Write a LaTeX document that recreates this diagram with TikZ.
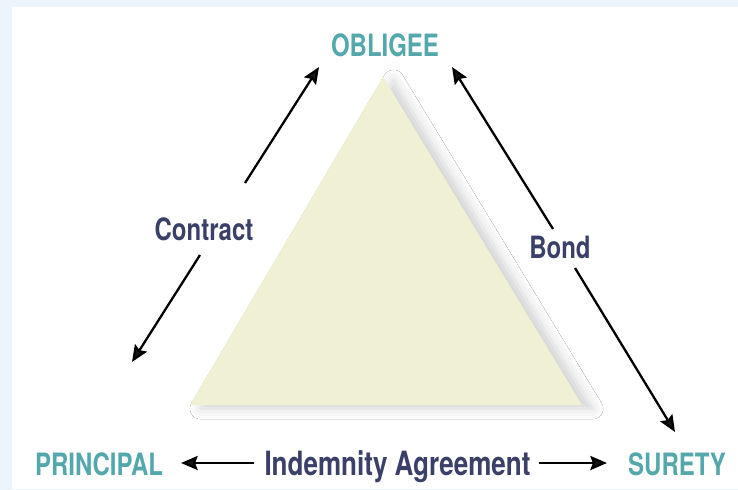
\documentclass[tikz,border=0pt]{standalone}
\usepackage{fontspec}
\newfontfamily\condfont[FakeStretch=0.78]{TeX Gyre Heros}
\usepackage{tikz}
\usetikzlibrary{arrows.meta,shadows.blur}

\definecolor{partyteal}{RGB}{84,168,172}
\definecolor{linknavy}{RGB}{58,64,104}
\definecolor{trifill}{RGB}{240,241,212}
\definecolor{edgeblue}{RGB}{214,230,246}
\definecolor{paleblue}{RGB}{236,244,252}

\begin{document}
\begin{tikzpicture}
%\draw[very thin, color = gray](0, 0) grid (15, 10);
\tikzstyle{party} = [text = partyteal, anchor = base,
  font = \condfont\bfseries\fontsize{17.5}{20}\selectfont];
\tikzstyle{link} = [text = linknavy, anchor = base,
  font = \condfont\bfseries\fontsize{17.5}{20}\selectfont];
\tikzstyle{line} = [draw, -{Stealth[length = 9.5pt, width = 8pt, inset = 1.5pt]}, line width = 1.3pt]
\useasboundingbox (0, 0) rectangle (14.76, 9.78);
\shade [top color = paleblue, middle color = edgeblue, bottom color = paleblue]
  (0, 0) rectangle (14.76, 9.78);
\fill [white] (0.24, 0) rectangle (14.76, 9.64);
\fill [trifill, blur shadow = {shadow xshift = 6pt, shadow yshift = -2pt,
  shadow blur radius = 6pt, shadow opacity = 18}]
  (3.80, 1.68) -- (7.66, 8.24) -- (11.64, 1.68) -- cycle;
\node [party] at (7.70, 8.64) (obligee) {OBLIGEE};
\node [party] at (1.98, 0.27) (principal) {PRINCIPAL};
\node [party] at (13.54, 0.27) (surety) {SURETY};
\node [link] at (4.08, 4.98) (contract) {Contract};
\node [link] at (11.20, 4.62) (bond) {Bond};
\node [link, font = \condfont\bfseries\fontsize{19}{22}\selectfont] at (7.95, 0.27)
  (indemnity) {Indemnity Agreement};
\coordinate (contract up) at (4.90, 6.12);
\coordinate (contract top) at (6.38, 8.44);
\coordinate (contract down) at (4.00, 4.68);
\coordinate (contract end) at (2.64, 2.54);
\coordinate (bond up) at (11.06, 5.20);
\coordinate (bond top) at (9.04, 8.44);
\coordinate (bond down) at (11.50, 4.42);
\coordinate (bond end) at (13.50, 1.14);
\coordinate (deal left) at (5.08, 0.52);
\coordinate (deal left end) at (3.62, 0.52);
\coordinate (deal right) at (10.78, 0.52);
\coordinate (deal right end) at (12.14, 0.52);
\path [line] (contract up) -- (contract top);
\path [line] (contract down) -- (contract end);
\path [line] (bond up) -- (bond top);
\path [line] (bond down) -- (bond end);
\path [line] (deal left) -- (deal left end);
\path [line] (deal right) -- (deal right end);
\end{tikzpicture}
\end{document}
